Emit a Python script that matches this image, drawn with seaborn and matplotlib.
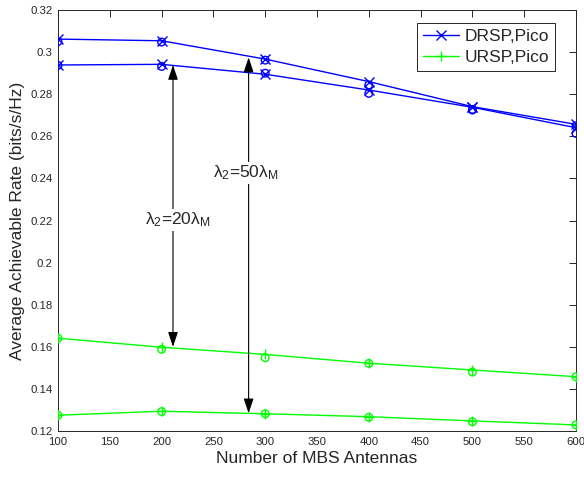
import numpy as np
import pandas as pd
import seaborn as sns
import matplotlib.pyplot as plt
from matplotlib.ticker import FuncFormatter

# nombre d'antennes MBS
antennas = [100, 200, 300, 400, 500, 600]

# DRSP, Pico (simulation = x, analyse = o)
drsp_50_sim = [0.3062, 0.3054, 0.2967, 0.2860, 0.2741, 0.2657]
drsp_50_ana = [0.3050, 0.3048, 0.2962, 0.2844, 0.2728, 0.2650]
drsp_20_sim = [0.2939, 0.2942, 0.2895, 0.2820, 0.2738, 0.2641]
drsp_20_ana = [0.2937, 0.2932, 0.2900, 0.2804, 0.2725, 0.2614]

# URSP, Pico
ursp_20_sim = [0.1641, 0.1598, 0.1564, 0.1522, 0.1490, 0.1458]
ursp_20_ana = [0.1641, 0.1588, 0.1548, 0.1521, 0.1480, 0.1458]
ursp_50_sim = [0.1275, 0.1294, 0.1282, 0.1268, 0.1248, 0.1229]
ursp_50_ana = [0.1275, 0.1292, 0.1282, 0.1265, 0.1244, 0.1229]

# flèches (x, haut, bas) et étiquettes
arrow_20 = (211, 0.2939, 0.1600)
arrow_50 = (284, 0.2975, 0.1284)
label_20 = (184, 0.2202, "λ$_2$=20λ$_\\mathregular{M}$")
label_50 = (250, 0.2426, "λ$_2$=50λ$_\\mathregular{M}$")

sns.set_style("white")
plt.rcParams['font.family'] = ['Liberation Sans', 'DejaVu Sans']
plt.rcParams['mathtext.fontset'] = 'custom'
plt.rcParams['mathtext.rm'] = 'Liberation Sans'
plt.rcParams['mathtext.it'] = 'Liberation Sans'

fig, ax = plt.subplots(figsize=(5.84, 4.78), dpi=100)
fig.subplots_adjust(left=0.0993, right=0.9863, bottom=0.0983, top=0.979)

blue = (0, 0, 1)
green = (0, 1, 0)

for sim, ana, col, mk in [(drsp_50_sim, drsp_50_ana, blue, 'x'),
                          (drsp_20_sim, drsp_20_ana, blue, 'x'),
                          (ursp_20_sim, ursp_20_ana, green, '+'),
                          (ursp_50_sim, ursp_50_ana, green, '+')]:
    sns.lineplot(x=antennas, y=sim, color=col, marker=mk, markersize=7,
                 markeredgecolor=col, markeredgewidth=1.0, linewidth=1.0,
                 ax=ax, zorder=3)
    sns.scatterplot(x=antennas, y=ana, marker='o', s=30, facecolors='none',
                    edgecolor=col, linewidth=1.0, ax=ax, zorder=3)

# flèches doubles
for xa, top, bot in [arrow_20, arrow_50]:
    ax.annotate('', xy=(xa, top), xytext=(xa, bot),
                arrowprops=dict(arrowstyle='<|-|>,head_length=0.9,head_width=0.3',
                                color='k', lw=0.8, shrinkA=0, shrinkB=0))

for xt, yt, txt in [label_20, label_50]:
    ax.text(xt, yt, txt, fontsize=12.5, ha='left', va='center',
            bbox=dict(facecolor='white', edgecolor='none', pad=1.0), zorder=4)

ax.set_xlim(100, 600)
ax.set_ylim(0.12, 0.32)
ax.set_xticks(np.arange(100, 601, 50))
ax.set_yticks(np.arange(0.12, 0.3201, 0.02))
ax.yaxis.set_major_formatter(FuncFormatter(lambda v, p: f"{v:g}"))
ax.tick_params(direction='in', length=5, width=0.7, top=True, right=True,
               labelsize=8.2, colors='#262626', pad=4)
for sp in ax.spines.values():
    sp.set_color('#262626')
    sp.set_linewidth(0.7)

ax.set_xlabel("Number of MBS Antennas", fontsize=12.5, color='#262626', labelpad=3)
ax.set_ylabel("Average Achievable Rate (bits/s/Hz)", fontsize=12.5, color='#262626', labelpad=4)

h1, = ax.plot([], [], color=blue, marker='x', markersize=7, lw=1.0)
h2, = ax.plot([], [], color=green, marker='+', markersize=7, lw=1.0)
leg = ax.legend([h1, h2], ["DRSP,Pico", "URSP,Pico"], loc='upper right',
                bbox_to_anchor=(0.9595, 0.969), borderaxespad=0, fontsize=12.5,
                fancybox=False, framealpha=1, edgecolor='#262626',
                handlelength=2.1, handletextpad=0.3, borderpad=0.35,
                labelspacing=0.3)
leg.get_frame().set_linewidth(0.7)

fig.savefig("out.png", dpi=100)
